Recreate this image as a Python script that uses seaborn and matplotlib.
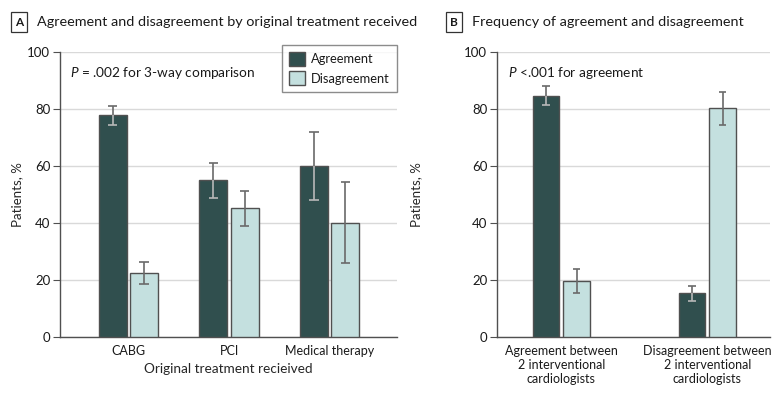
import pandas as pd
import seaborn as sns
import matplotlib.pyplot as plt

# Panel A: by original treatment
treatments = ["CABG", "PCI", "Medical therapy"]
agree_a = [77.8, 55.0, 60.0]
agree_a_lo = [74.5, 48.9, 48.1]
agree_a_hi = [80.9, 61.1, 72.0]
disagree_a = [22.5, 45.3, 40.0]
disagree_a_lo = [18.7, 38.9, 26.1]
disagree_a_hi = [26.3, 51.4, 54.3]

# Panel B: frequency of agreement / disagreement
groups_b = [
    "Agreement between\n2 interventional\ncardiologists",
    "Disagreement between\n2 interventional\ncardiologists",
]
agree_b = [84.6, 15.4]
agree_b_lo = [81.3, 12.8]
agree_b_hi = [87.9, 17.9]
disagree_b = [19.8, 80.2]
disagree_b_lo = [15.6, 74.5]
disagree_b_hi = [24.0, 85.8]

levels = ["Agreement", "Disagreement"]
DARK = "#2b5453"
LIGHT = "#bfe5e3"
EDGE = "#505050"
TEXT = "#1a1a1a"

sns.set_style("white")
plt.rcParams["font.family"] = ["Lato", "DejaVu Sans"]
plt.rcParams["text.color"] = TEXT
plt.rcParams["mathtext.fontset"] = "custom"
plt.rcParams["mathtext.it"] = "Lato:italic"
plt.rcParams["mathtext.rm"] = "Lato"


def panel(ax, cats, agree, a_lo, a_hi, dis, d_lo, d_hi, width, gap, xlim, ypad):
    df = pd.DataFrame({
        "cat": cats * 2,
        "kind": [levels[0]] * len(cats) + [levels[1]] * len(cats),
        "val": list(agree) + list(dis),
    })
    sns.barplot(data=df, x="cat", y="val", hue="kind", hue_order=levels,
                palette=[DARK, LIGHT], width=width, gap=gap, ax=ax,
                edgecolor=EDGE, linewidth=1, errorbar=None, zorder=3)
    # asymmetric CIs drawn on the bar centres
    cw = 0.045 * (xlim[1] - xlim[0]) / 3.35
    for i, (cont, vals, lo, hi) in enumerate(zip(ax.containers, [agree, dis], [a_lo, d_lo], [a_hi, d_hi])):
        inner = "#b8b8b8" if i == 0 else "#6a6a6a"
        for bar, v, l, h in zip(cont, vals, lo, hi):
            x = bar.get_x() + bar.get_width() / 2
            ax.vlines(x, v, h, color="#6a6a6a", lw=1.2, zorder=4)
            ax.vlines(x, l, v, color=inner, lw=1.2, zorder=4)
            ax.hlines(h, x - cw, x + cw, color="#6a6a6a", lw=1.2, zorder=4)
            ax.hlines(l, x - cw, x + cw, color=inner, lw=1.2, zorder=4)
    ax.set_xlim(*xlim)
    ax.set_ylim(0, 100)
    ax.set_yticks(range(0, 101, 20))
    ax.yaxis.grid(True, color="#d9d9d9", lw=1, zorder=0)
    ax.set_axisbelow(True)
    sns.despine(ax=ax)
    for s in ["left", "bottom"]:
        ax.spines[s].set_color(EDGE)
        ax.spines[s].set_linewidth(1)
    ax.tick_params(axis="y", length=5, color=EDGE, labelsize=9.5, pad=2, left=True,
                   labelcolor=TEXT)
    ax.tick_params(axis="x", length=0, labelsize=9, pad=6, labelcolor=TEXT)
    ax.set_ylabel("Patients, %", fontsize=9.5, labelpad=ypad)
    ax.set_xlabel("")


fig = plt.figure(figsize=(7.8, 4), dpi=100)
ax_a = fig.add_axes([60 / 780, 1 - 337 / 400, 337 / 780, 285 / 400])
ax_b = fig.add_axes([497 / 780, 1 - 337 / 400, 273 / 780, 285 / 400])

panel(ax_a, treatments, agree_a, agree_a_lo, agree_a_hi,
      disagree_a, disagree_a_lo, disagree_a_hi, 0.62, 0.1, (-0.68, 2.67), 3)
panel(ax_b, groups_b, agree_b, agree_b_lo, agree_b_hi,
      disagree_b, disagree_b_lo, disagree_b_hi, 0.42, 0.14, (-0.44, 1.43), 30)

ax_a.set_xlabel("Original treatment recieived", fontsize=9.8, labelpad=4)
leg = ax_a.legend(loc="upper right", bbox_to_anchor=(1.0, 1.025), borderaxespad=0,
                  frameon=True, fancybox=False, edgecolor="#707070", fontsize=9.3,
                  handlelength=1.25, handleheight=1.25, borderpad=0.55, labelspacing=0.45,
                  handletextpad=0.45)
leg.get_frame().set_linewidth(1)
ax_b.get_legend().remove()

ax_a.text(0.03, 0.955, r"$\it{P}$ = .002 for 3-way comparison", transform=ax_a.transAxes,
          fontsize=9.8, va="top", ha="left")
ax_b.text(0.04, 0.955, r"$\it{P}$ <.001 for agreement", transform=ax_b.transAxes,
          fontsize=9.8, va="top", ha="left")

for x, letter, title in [(19, "A", "Agreement and disagreement by original treatment received"),
                         (454, "B", "Frequency of agreement and disagreement")]:
    fig.text(x / 780, 1 - 22 / 400, letter, fontsize=8.5, fontweight="bold", ha="center", va="center",
             bbox=dict(boxstyle="square,pad=0.35", fc="white", ec="#333333", lw=0.9))
    fig.text((x + 18) / 780, 1 - 22 / 400, title, fontsize=10.4, ha="left", va="center")

fig.savefig("out.png", dpi=100)
